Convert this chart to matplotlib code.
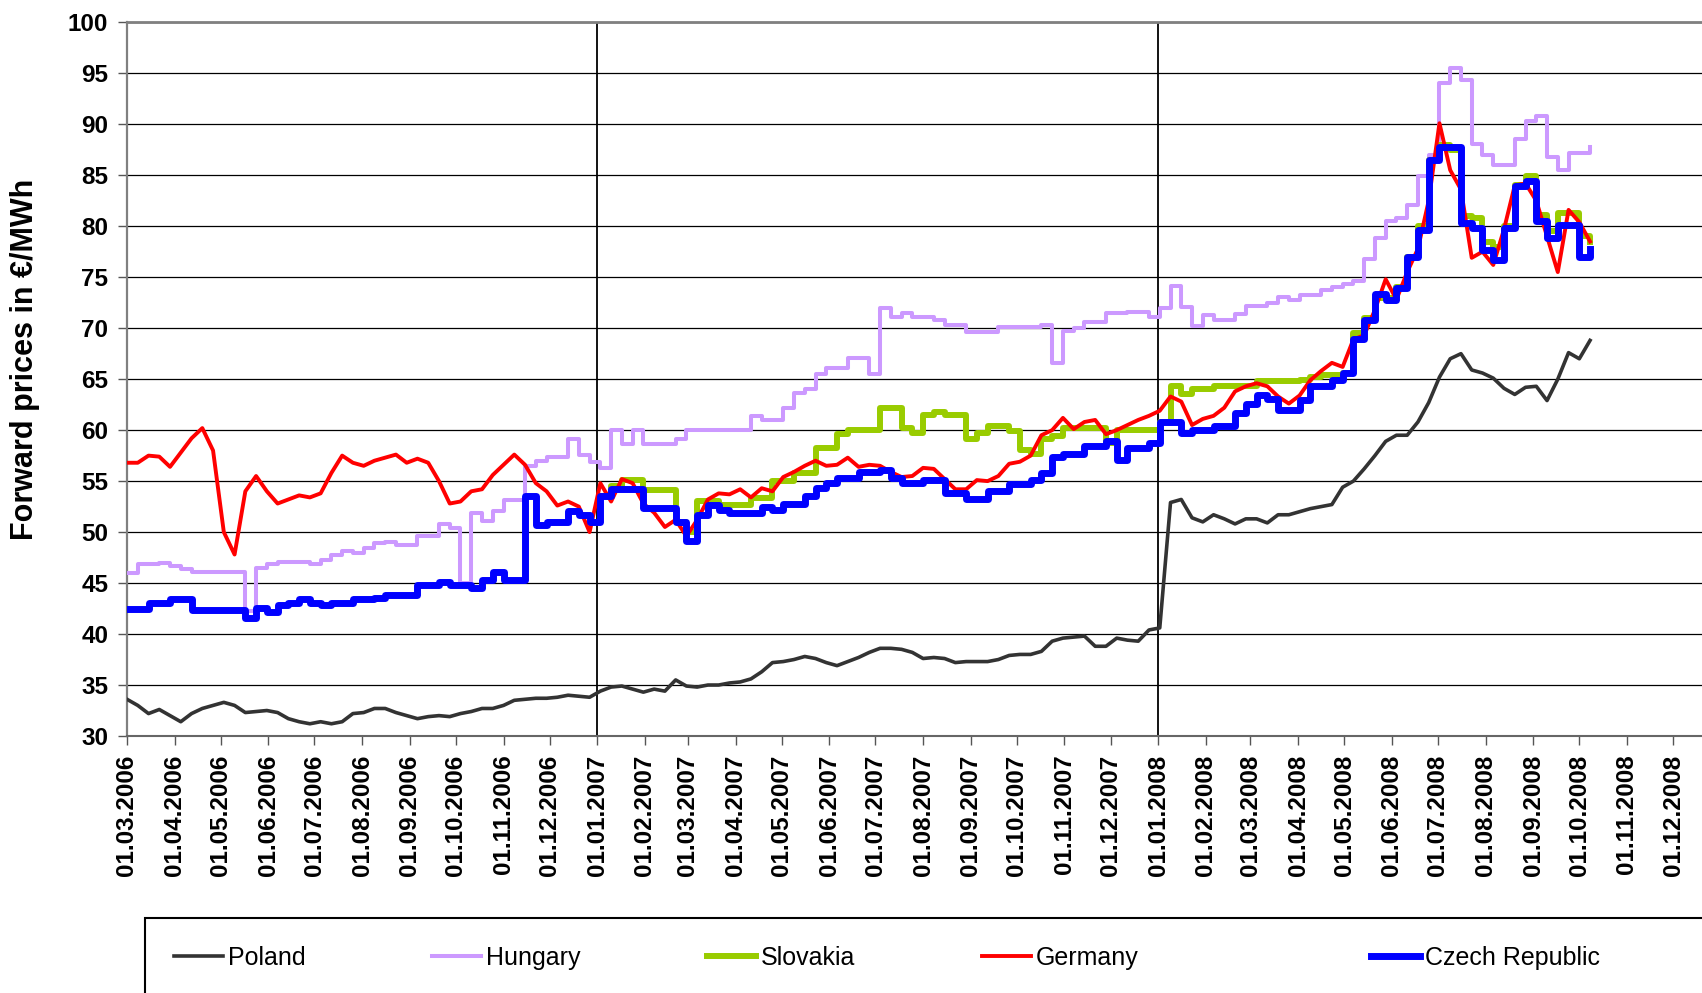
import numpy as np
import pandas as pd
import matplotlib
matplotlib.use('Agg')
import matplotlib.pyplot as plt
import matplotlib.dates as mdates
from matplotlib.patches import Rectangle

plt.rcParams['font.family'] = ['Liberation Sans', 'DejaVu Sans']

# Lecturas semanales (a partir del 01.03.2006), en €/MWh
fechas = pd.date_range('2006-03-01', periods=137, freq='7D')

poland = [
    33.6, 33.0, 32.2, 32.6, 32.0, 31.4, 32.2, 32.7, 33.0, 33.3,
    33.0, 32.3, 32.4, 32.5, 32.3, 31.7, 31.4, 31.2, 31.4, 31.2,
    31.4, 32.2, 32.3, 32.7, 32.7, 32.3, 32.0, 31.7, 31.9, 32.0,
    31.9, 32.2, 32.4, 32.7, 32.7, 33.0, 33.5, 33.6, 33.7, 33.7,
    33.8, 34.0, 33.9, 33.8, 34.4, 34.8, 34.9, 34.6, 34.3, 34.6,
    34.4, 35.5, 34.9, 34.8, 35.0, 35.0, 35.2, 35.3, 35.6, 36.3,
    37.2, 37.3, 37.5, 37.8, 37.6, 37.2, 36.9, 37.3, 37.7, 38.2,
    38.6, 38.6, 38.5, 38.2, 37.6, 37.7, 37.6, 37.2, 37.3, 37.3,
    37.3, 37.5, 37.9, 38.0, 38.0, 38.3, 39.3, 39.6, 39.7, 39.8,
    38.8, 38.8, 39.6, 39.4, 39.3, 40.4, 40.6, 52.9, 53.2, 51.4,
    51.0, 51.7, 51.3, 50.8, 51.3, 51.3, 50.9, 51.7, 51.7, 52.0,
    52.3, 52.5, 52.7, 54.4, 55.0, 56.2, 57.5, 58.9, 59.5, 59.5,
    60.8, 62.7, 65.2, 67.0, 67.5, 65.9, 65.6, 65.1, 64.1, 63.5,
    64.2, 64.3, 62.9, 65.0, 67.6, 67.0, 68.8,
]

hungary = [
    46.0, 46.9, 46.9, 47.0, 46.7, 46.4, 46.1, 46.1, 46.1, 46.1,
    46.1, 42.3, 46.5, 46.9, 47.1, 47.1, 47.1, 46.9, 47.3, 47.8,
    48.1, 47.9, 48.4, 48.9, 49.0, 48.7, 48.7, 49.6, 49.6, 50.8,
    50.4, 45.0, 51.9, 51.1, 52.1, 53.1, 53.1, 56.5, 57.0, 57.4,
    57.4, 59.1, 57.6, 56.9, 56.3, 60.0, 58.6, 60.0, 58.6, 58.6,
    58.6, 59.1, 60.0, 60.0, 60.0, 60.0, 60.0, 60.0, 61.4, 61.0,
    61.0, 62.2, 63.6, 64.0, 65.5, 66.1, 66.1, 67.1, 67.1, 65.5,
    72.0, 71.1, 71.5, 71.1, 71.1, 70.8, 70.3, 70.3, 69.6, 69.6,
    69.6, 70.1, 70.1, 70.1, 70.1, 70.3, 66.6, 69.7, 70.0, 70.6,
    70.6, 71.5, 71.5, 71.6, 71.6, 71.1, 72.0, 74.1, 72.1, 70.2,
    71.3, 70.8, 70.8, 71.4, 72.2, 72.2, 72.5, 73.1, 72.8, 73.3,
    73.3, 73.7, 74.0, 74.3, 74.6, 76.8, 78.8, 80.5, 80.8, 82.1,
    84.9, 87.0, 94.0, 95.5, 94.3, 88.1, 87.0, 86.0, 86.0, 88.6,
    90.3, 90.8, 86.8, 85.5, 87.2, 87.2, 87.8,
]

# Slovakia solo aparece desde enero de 2007
slovakia = [np.nan] * 44 + [
    53.5, 54.5, 55.1, 55.1, 54.1, 54.1,
    54.1, 51.0, 50.0, 53.0, 53.0, 52.7, 52.7, 52.7, 53.3, 53.3,
    55.0, 55.0, 55.8, 55.8, 58.2, 58.2, 59.6, 60.0, 60.0, 60.0,
    62.2, 62.2, 60.2, 59.7, 61.5, 61.8, 61.5, 61.5, 59.1, 59.7,
    60.4, 60.4, 59.9, 58.1, 57.7, 59.1, 59.4, 60.2, 60.2, 60.2,
    60.2, 58.7, 60.0, 60.0, 60.0, 60.0, 60.8, 64.3, 63.5, 64.0,
    64.0, 64.3, 64.3, 64.3, 64.3, 64.8, 64.8, 64.8, 64.8, 64.9,
    65.2, 65.4, 65.4, 65.6, 69.5, 71.0, 73.0, 73.0, 74.0, 77.0,
    80.0, 86.5, 88.0, 87.5, 81.0, 80.8, 78.5, 78.0, 80.0, 84.0,
    84.9, 81.1, 79.5, 81.3, 81.3, 79.0, 78.5,
]

germany = [
    56.8, 56.8, 57.5, 57.4, 56.4, 57.8, 59.2, 60.2, 58.0, 50.0,
    47.8, 54.0, 55.5, 54.0, 52.8, 53.2, 53.6, 53.4, 53.8, 55.8,
    57.5, 56.8, 56.5, 57.0, 57.3, 57.6, 56.8, 57.2, 56.8, 55.0,
    52.8, 53.0, 54.0, 54.2, 55.6, 56.6, 57.6, 56.6, 54.8, 54.0,
    52.6, 53.0, 52.5, 50.0, 54.8, 53.0, 55.2, 54.8, 52.8, 51.9,
    50.5, 51.2, 49.6, 51.2, 53.2, 53.8, 53.7, 54.2, 53.4, 54.3,
    54.0, 55.4, 55.9, 56.5, 57.0, 56.5, 56.6, 57.3, 56.4, 56.6,
    56.5, 55.9, 55.4, 55.5, 56.3, 56.2, 55.2, 54.2, 54.2, 55.1,
    55.0, 55.5, 56.7, 56.9, 57.5, 59.5, 60.0, 61.2, 60.1, 60.8,
    61.0, 59.6, 60.0, 60.5, 61.0, 61.4, 61.9, 63.3, 62.8, 60.5,
    61.1, 61.4, 62.2, 63.8, 64.3, 64.6, 64.3, 63.3, 62.6, 63.4,
    64.9, 65.8, 66.6, 66.2, 68.9, 69.3, 71.8, 74.8, 72.8, 75.5,
    77.8, 82.5, 90.1, 85.5, 83.6, 76.9, 77.5, 76.2, 79.7, 84.0,
    84.2, 82.5, 79.0, 75.5, 81.6, 80.4, 78.5,
]

czech = [
    42.5, 42.5, 43.0, 43.0, 43.4, 43.4, 42.4, 42.4, 42.4, 42.4,
    42.4, 41.6, 42.6, 42.2, 42.8, 43.0, 43.4, 43.0, 42.8, 43.0,
    43.0, 43.4, 43.4, 43.5, 43.8, 43.8, 43.8, 44.8, 44.8, 45.1,
    44.8, 44.8, 44.5, 45.3, 46.1, 45.3, 45.3, 53.5, 50.7, 51.0,
    51.0, 52.1, 51.7, 51.0, 53.5, 54.2, 54.2, 54.2, 52.4, 52.4,
    52.4, 51.0, 49.1, 51.7, 52.7, 52.2, 51.9, 51.9, 51.9, 52.5,
    52.2, 52.8, 52.8, 53.5, 54.3, 54.8, 55.3, 55.3, 55.9, 55.9,
    56.1, 55.3, 54.8, 54.8, 55.1, 55.1, 53.8, 53.8, 53.2, 53.2,
    54.0, 54.0, 54.7, 54.7, 55.1, 55.8, 57.4, 57.7, 57.7, 58.4,
    58.4, 58.9, 57.1, 58.2, 58.2, 58.7, 60.8, 60.8, 59.7, 60.0,
    60.0, 60.4, 60.4, 61.7, 62.6, 63.4, 63.1, 62.0, 62.0, 63.0,
    64.3, 64.3, 64.9, 65.6, 68.9, 70.8, 73.4, 72.8, 73.9, 77.0,
    79.6, 86.5, 87.8, 87.8, 80.3, 79.8, 77.7, 76.7, 79.8, 83.9,
    84.4, 80.5, 78.8, 80.1, 80.1, 77.0, 77.8,
]

fig = plt.figure(figsize=(17.02, 9.93), dpi=100)
ax = fig.add_axes([127 / 1702, 257 / 993, 1593.7 / 1702, 713.7 / 993])

# Series (orden de dibujo como en la leyenda)
l_pl, = ax.plot(fechas, poland, color='#333333', lw=2.6, zorder=3)
l_hu, = ax.plot(fechas, hungary, color='#CC99FF', lw=2.9, drawstyle='steps-post', zorder=4)
l_sk, = ax.plot(fechas, slovakia, color='#99CC00', lw=4.3, drawstyle='steps-post', zorder=5)
l_de, = ax.plot(fechas, germany, color='#FF0000', lw=2.8, zorder=6)
l_cz, = ax.plot(fechas, czech, color='#0000FF', lw=5.0, drawstyle='steps-post', zorder=7)

# Líneas de cambio de año
for anio in ['2007-01-01', '2008-01-01']:
    ax.axvline(pd.Timestamp(anio), color='black', lw=1.3, zorder=2)

ax.set_xlim(pd.Timestamp('2006-03-01'), pd.Timestamp('2009-01-01'))
ax.set_ylim(30, 100)
ax.set_yticks(range(30, 101, 5))
ax.set_xticks(pd.date_range('2006-03-01', '2008-12-01', freq='MS'))
ax.xaxis.set_major_formatter(mdates.DateFormatter('%d.%m.%Y'))
ax.yaxis.grid(True, color='black', lw=0.9)
ax.set_axisbelow(True)

for lbl in ax.get_xticklabels():
    lbl.set_rotation(90)
    lbl.set_fontweight('bold')
    lbl.set_fontsize(17.5)
for lbl in ax.get_yticklabels():
    lbl.set_fontweight('bold')
    lbl.set_fontsize(17.5)

ax.tick_params(axis='both', direction='out', length=6.5, width=1, color='#555555')
ax.tick_params(axis='x', pad=7)
ax.tick_params(axis='y', pad=7)

ax.spines['right'].set_visible(False)
ax.spines['left'].set_color('#808080')
ax.spines['left'].set_linewidth(1.6)
ax.spines['top'].set_color('#808080')
ax.spines['top'].set_linewidth(2)
ax.spines['bottom'].set_color('#666666')
ax.spines['bottom'].set_linewidth(1.5)

ax.set_ylabel('Forward prices in €/MWh', fontsize=22, fontweight='bold')
ax.yaxis.set_label_coords(-0.0546, 0.528)

# Caja de la leyenda (recortada por el borde de la figura)
fig.add_artist(Rectangle((145 / 1702, -0.2), 1.0, (993 - 918) / 993 + 0.2,
                         transform=fig.transFigure, fill=False,
                         edgecolor='black', lw=1.5))

entradas = [
    (l_pl, 'Poland', 174), (l_hu, 'Hungary', 432), (l_sk, 'Slovakia', 707),
    (l_de, 'Germany', 982), (l_cz, 'Czech Republic', 1371),
]
for linea, nombre, x0 in entradas:
    fig.legend(handles=[linea], labels=[nombre], loc='center left',
               bbox_to_anchor=(x0 / 1702, 35 / 993), frameon=False,
               fontsize=18, handlelength=1.95, handletextpad=0.2,
               borderpad=0, borderaxespad=0)

fig.savefig('out.png', dpi=100)
